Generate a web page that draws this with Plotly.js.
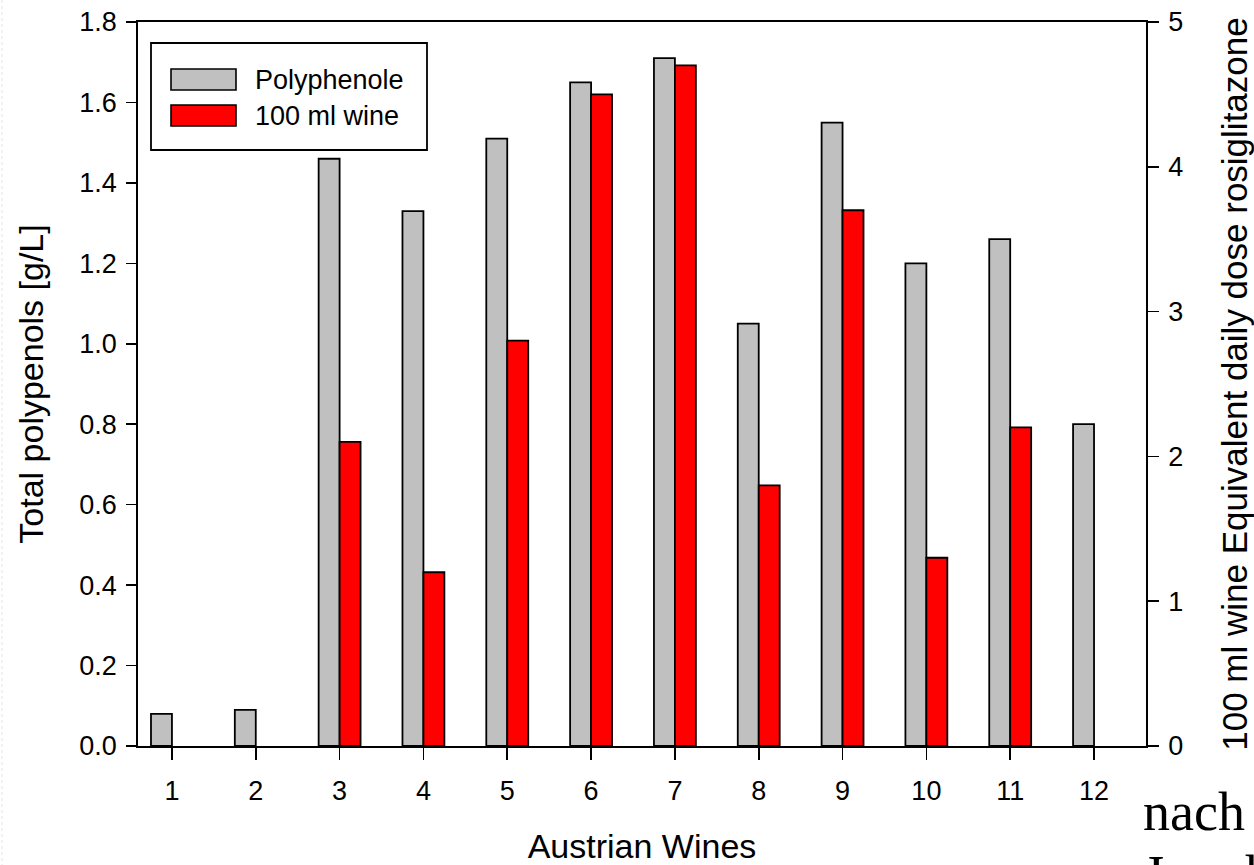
<!DOCTYPE html>
<html>
<head>
<meta charset="utf-8">
<script src="https://cdn.plot.ly/plotly-3.0.1.min.js"></script>
<style>
  html, body { margin: 0; padding: 0; background: #ffffff; overflow: hidden; }
  #chart { width: 1254px; height: 865px; }
</style>
</head>
<body>
<div id="chart"></div>
<script>
// ---- data ----
const categories = [1, 2, 3, 4, 5, 6, 7, 8, 9, 10, 11, 12];
const polyphenole = [0.08, 0.09, 1.46, 1.33, 1.51, 1.65, 1.71, 1.05, 1.55, 1.20, 1.26, 0.80];
const wine100ml = [null, null, 2.1, 1.2, 2.8, 4.5, 4.7, 1.8, 3.7, 1.3, 2.2, null];
const leftTicks = [0, 0.2, 0.4, 0.6, 0.8, 1.0, 1.2, 1.4, 1.6, 1.8];
const leftTickText = ["0.0", "0.2", "0.4", "0.6", "0.8", "1.0", "1.2", "1.4", "1.6", "1.8"];
const rightTicks = [0, 1, 2, 3, 4, 5];
const seriesNames = ["Polyphenole", "100 ml wine"];
const xTitle = "Austrian Wines";
const yTitle = "Total polypenols [g/L]";
const y2Title = "100 ml wine Equivalent daily dose rosiglitazone";
const slideText = ["nach A.", "Junghans"];

// ---- layout geometry (pixels) ----
const W = 1254, H = 865;
const M = { l: 138, r: 108, t: 22, b: 119 };
const PW = W - M.l - M.r, PH = H - M.t - M.b;
const px = v => (v - M.l) / PW;         // pixel x -> paper
const py = v => (H - M.b - v) / PH;     // pixel y -> paper

const FONT = "Liberation Sans, Arial, sans-serif";
const GRAY = "#c0c0c0", RED = "#ff0000";

const traces = [
  {
    type: "bar", name: seriesNames[0], x: categories, y: polyphenole,
    width: 0.25, offset: -0.25,
    marker: { color: GRAY, line: { color: "#000000", width: 1.8 } },
    yaxis: "y", showlegend: false, hoverinfo: "x+y"
  },
  {
    type: "bar", name: seriesNames[1], x: categories, y: wine100ml,
    width: 0.25, offset: 0,
    marker: { color: RED, line: { color: "#000000", width: 1.8 } },
    yaxis: "y2", showlegend: false, hoverinfo: "x+y"
  }
];

const axisCommon = {
  showgrid: false, zeroline: false, showline: true,
  linecolor: "#000000", linewidth: 1.8,
  ticks: "outside", tickcolor: "#000000", tickwidth: 1.6,
  tickfont: { family: FONT, size: 27, color: "#000000" }
};

const legendBox = { x0: 151, x1: 427, y0: 43, y1: 150 };
const sw = [
  { x0: 171, x1: 236, y0: 69, y1: 90, color: GRAY, label: seriesNames[0], ty: 80 },
  { x0: 171, x1: 236, y0: 105, y1: 126, color: RED, label: seriesNames[1], ty: 116 }
];

const shapes = [
  {
    type: "rect", xref: "paper", yref: "paper",
    x0: px(legendBox.x0), x1: px(legendBox.x1), y0: py(legendBox.y1), y1: py(legendBox.y0),
    line: { color: "#000000", width: 1.8 }, fillcolor: "#ffffff", layer: "above"
  },
  {
    type: "line", xref: "paper", yref: "paper",
    x0: px(2), x1: px(2), y0: py(0), y1: py(H),
    line: { color: "#e4e4e4", width: 1, dash: "dot" }
  }
];
const annotations = [];
sw.forEach(s => {
  shapes.push({
    type: "rect", xref: "paper", yref: "paper",
    x0: px(s.x0), x1: px(s.x1), y0: py(s.y1), y1: py(s.y0),
    line: { color: "#000000", width: 1.6 }, fillcolor: s.color, layer: "above"
  });
  annotations.push({
    xref: "paper", yref: "paper", x: px(253), y: py(s.ty),
    xanchor: "left", yanchor: "middle", showarrow: false,
    text: s.label, font: { family: FONT, size: 27, color: "#000000" }
  });
});
// slide text running off the right / bottom edge, as in the reference
const slideTops = [780, 843];
slideText.forEach((t, i) => {
  annotations.push({
    xref: "paper", yref: "paper", x: px(1141), y: py(slideTops[i]),
    xanchor: "left", yanchor: "top", showarrow: false, align: "left",
    text: t, font: { family: "Liberation Serif, serif", size: 54, color: "#000000" }
  });
});

const layout = {
  width: W, height: H,
  margin: M,
  paper_bgcolor: "#ffffff", plot_bgcolor: "#ffffff",
  showlegend: false,
  barmode: "overlay",
  xaxis: Object.assign({}, axisCommon, {
    range: [0.595, 12.62], tickvals: categories, ticklen: 12,
    mirror: true, ticklabelstandoff: 8,
    title: { text: xTitle, font: { family: FONT, size: 34, color: "#000000" }, standoff: 31 }
  }),
  yaxis: Object.assign({}, axisCommon, {
    range: [0, 1.8], tickvals: leftTicks, ticktext: leftTickText, ticklen: 10,
    ticklabelstandoff: 4,
    title: { text: yTitle, font: { family: FONT, size: 34, color: "#000000" }, standoff: 25 }
  }),
  yaxis2: Object.assign({}, axisCommon, {
    range: [0, 5], tickvals: rightTicks, ticklen: 11,
    overlaying: "y", side: "right", ticklabelstandoff: 4,
    title: { text: y2Title, font: { family: FONT, size: 35, color: "#000000" }, standoff: 41 }
  }),
  shapes: shapes,
  annotations: annotations
};

Plotly.newPlot("chart", traces, layout, { staticPlot: true, displayModeBar: false });
</script>
</body>
</html>
